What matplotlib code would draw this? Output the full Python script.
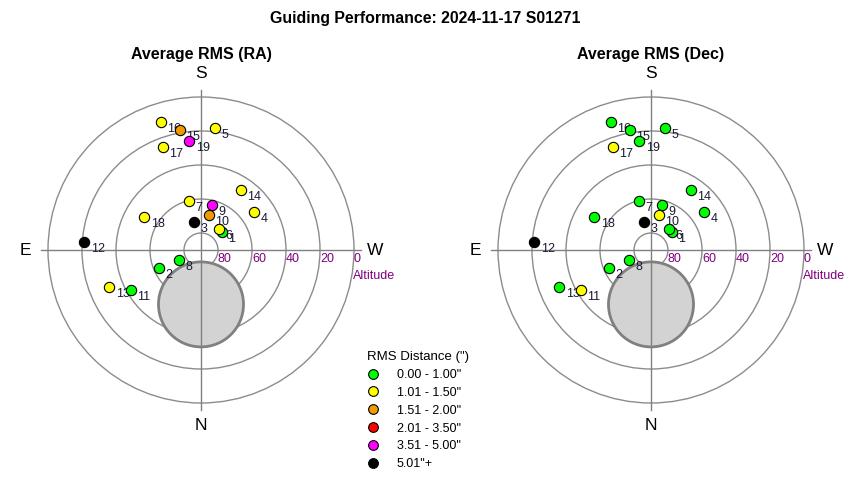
import numpy as np
import matplotlib.pyplot as plt
from matplotlib.patches import Circle
from matplotlib.lines import Line2D

plt.rcParams['font.family'] = ['Liberation Sans', 'DejaVu Sans']

# guide points (altitude / azimuth in degrees, azimuth from N through E)
point_ids = list(range(1, 20))
altitudes = [73.6, 63.0, 73.2, 51.4, 17.9, 73.7, 60.4, 75.9, 62.9, 68.9,
             42.6, 21.2, 31.8, 47.4, 18.5, 11.3, 25.4, 51.5, 25.5]
azimuths = [228.9, 66.5, 166.4, 234.3, 186.7, 221.5, 166.6, 64.6, 194.2, 192.9,
            60.3, 94.1, 67.9, 213.6, 169.9, 162.7, 159.6, 120.0, 173.9]

# RMS class of every point (index into class_labels)
ra_class = [0, 0, 5, 1, 1, 1, 1, 0, 4, 2, 0, 5, 1, 1, 2, 1, 1, 1, 4]
dec_class = [0, 0, 5, 0, 0, 0, 0, 0, 0, 1, 1, 5, 0, 0, 0, 0, 1, 0, 0]

class_labels = ['0.00 - 1.00"', '1.01 - 1.50"', '1.51 - 2.00"',
                '2.01 - 3.50"', '3.51 - 5.00"', '5.01"+']
class_colors = ['#00ff00', '#ffff00', '#ee9a00', '#ff0000', '#ff00ff', '#000000']

alt_rings = [80, 60, 40, 20, 0]
ring_labels = ['80', '60', '40', '20', '0']

# grey zone (pole area)
zone_alt = 58
zone_az = 0
zone_radius = 25

PX = 1.7  # pixels per degree


def to_xy(alt, az):
    r = 90 - np.asarray(alt, dtype=float)
    a = np.radians(az)
    return -r * np.sin(a), -r * np.cos(a)


def draw_panel(ax, classes):
    ax.set_xlim(-200 / PX, 200 / PX)
    ax.set_ylim(-190 / PX, 190 / PX)
    ax.set_aspect('equal')
    ax.axis('off')

    for alt in alt_rings:
        ax.add_patch(Circle((0, 0), 90 - alt, fill=False, ec='#8c8c8c', lw=1, zorder=1))

    zx, zy = to_xy(zone_alt, zone_az)
    ax.add_patch(Circle((float(zx), float(zy)), zone_radius, fc='#d3d3d3', ec='#808080',
                        lw=2, zorder=2))

    ax.plot([-94, 94], [0, 0], color='#808080', lw=1, zorder=3)
    ax.plot([0, 0], [-94, 94], color='#808080', lw=1, zorder=3)

    for alt, lab in zip(alt_rings, ring_labels):
        ax.text(90 - alt, -2.0, lab, color='#800080', fontsize=9, ha='left', va='top', zorder=4)
    ax.text(102, -15.5, 'Altitude', color='#800080', fontsize=9, ha='center', va='center')

    ax.text(0, 104, 'S', fontsize=12.5, ha='center', va='center')
    ax.text(0, -103, 'N', fontsize=12.5, ha='center', va='center')
    ax.text(-103.5, 0, 'E', fontsize=12.5, ha='center', va='center')
    ax.text(102.5, 0, 'W', fontsize=12.5, ha='center', va='center')

    x, y = to_xy(altitudes, azimuths)
    for i in range(len(point_ids)):
        ax.annotate(str(point_ids[i]), (x[i], y[i]), xytext=(4.5, -5), textcoords='offset points',
                    fontsize=9, color='#1a1a33', ha='left', va='center', zorder=5)
    for i in range(len(point_ids)):
        ax.scatter(x[i], y[i], s=55, c=class_colors[classes[i]], edgecolors='black',
                   linewidths=0.8, zorder=6 + i * 0.01)


fig = plt.figure(figsize=(8.5, 4.8), dpi=100)
ax1 = fig.add_axes([1 / 850, 40 / 480, 400 / 850, 380 / 480])
ax2 = fig.add_axes([451 / 850, 40 / 480, 400 / 850, 380 / 480])

draw_panel(ax1, ra_class)
draw_panel(ax2, dec_class)

fig.text(0.5, 1 - 18 / 480, 'Guiding Performance: 2024-11-17 S01271', ha='center', va='center',
         fontsize=11.4, weight='bold')
fig.text(201 / 850, 1 - 55 / 480, 'Average RMS (RA)', ha='center', va='center',
         fontsize=11.5, weight='bold')
fig.text(651 / 850, 1 - 55 / 480, 'Average RMS (Dec)', ha='center', va='center',
         fontsize=11.5, weight='bold')

handles = [Line2D([], [], ls='none', marker='o', ms=7, mfc=c, mec='black', mew=0.8)
           for c in class_colors]
fig.legend(handles, class_labels, title='RMS Distance (")', loc='upper left',
           bbox_to_anchor=(367 / 850, 1 - 351 / 480), bbox_transform=fig.transFigure,
           frameon=False, fontsize=9, title_fontsize=9.5, alignment='left',
           borderpad=0, borderaxespad=0, handlelength=0.9, handletextpad=1.5,
           labelspacing=0.47)

fig.savefig('out.png', dpi=100)
